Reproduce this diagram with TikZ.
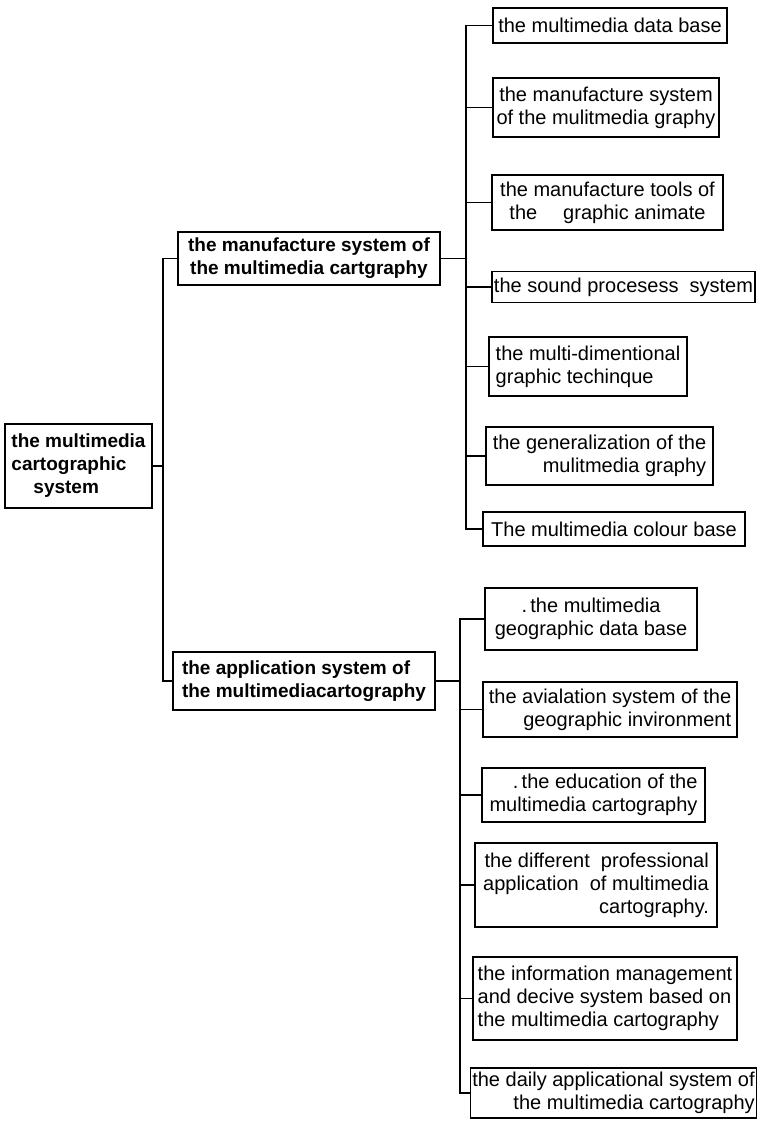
\documentclass[tikz,border=0pt]{standalone}
\usepackage{fontspec}
\setmainfont{Liberation Sans}
\begin{document}
\begin{tikzpicture}[x=1pt,y=-1pt,
  box/.style={draw, line width=1.6pt, inner sep=2pt, font=\fontsize{20}{23}\selectfont},
  mbox/.style={box, font=\bfseries\fontsize{19}{23}\selectfont},
  link/.style={line width=1.5pt}]
\useasboundingbox (0,0) rectangle (760,1125);
% root and middle level
\node[mbox, align=left, minimum width=147pt, minimum height=84pt] (root) at (78.5,466) {the multimedia\\cartographic\\\hspace*{22pt}system};
\node[mbox, align=center, minimum width=262pt, minimum height=53pt] (m1) at (309,258.5) {the manufacture system of\\the multimedia cartgraphy};
\node[mbox, align=left, minimum width=262pt, minimum height=58pt] (m2) at (304,681) {the application system of\\the multimediacartography};
% first group
\node[box, minimum width=234pt, minimum height=35pt] (r1) at (610,25.5) {the multimedia data base};
\node[box, align=center, minimum width=226pt, minimum height=59pt] (r2) at (606,107.5) {the manufacture system\\of the mulitmedia graphy};
\node[box, align=center, minimum width=231pt, minimum height=55pt] (r3) at (607.5,202.5) {the manufacture tools of\\the\hspace{1.3em}graphic animate};
\node[box, minimum width=263pt, minimum height=31pt] (r4) at (623.5,287) {the sound procesess\ \ system};
\node[box, align=left, minimum width=198pt, minimum height=59pt] (r5) at (588,366.5) {the multi-dimentional\\graphic techinque};
\node[box, align=right, minimum width=227pt, minimum height=58pt] (r6) at (599.5,456) {the generalization of the\\mulitmedia graphy};
\node[box, minimum width=262pt, minimum height=34pt] (r7) at (614,529) {The multimedia colour base};
% second group
\node[box, align=center, minimum width=212pt, minimum height=62pt] (r8) at (591,619) {.\,the multimedia\\geographic data base};
\node[box, align=right, minimum width=254pt, minimum height=55pt] (r9) at (610,709.5) {the avialation system of the\\geographic invironment};
\node[box, align=right, minimum width=223pt, minimum height=54pt] (r10) at (593.5,795) {.\,the education of the\\multimedia cartography};
\node[box, align=right, minimum width=242pt, minimum height=84pt] (r11) at (596,885) {the different\ \ professional\\application\ \ of multimedia\\cartography.};
\node[box, align=left, minimum width=264pt, minimum height=83pt] (r12) at (605,998.5) {the information management\\and decive system based on\\the multimedia cartography};
\node[box, align=right, minimum width=283pt, minimum height=50pt] (r13) at (613.5,1093) {the daily applicational system of\\the multimedia cartography};
% trunks
\coordinate (t0) at (163,466);
\coordinate (t1) at (466,258.5);
\coordinate (t2) at (460,681);
% connectors
\draw[link] (root.east) -- (t0);
\draw[link] (m1.west) -| (t0);
\draw[link] (m2.west) -| (t0);
\draw[link] (m1.east) -- (t1);
\foreach \n in {r1,r2,r3,r4,r5,r6,r7} \draw[link] (\n.west) -| (t1);
\draw[link] (m2.east) -- (t2);
\foreach \n in {r8,r9,r10,r11,r12,r13} \draw[link] (\n.west) -| (t2);
\end{tikzpicture}
\end{document}
